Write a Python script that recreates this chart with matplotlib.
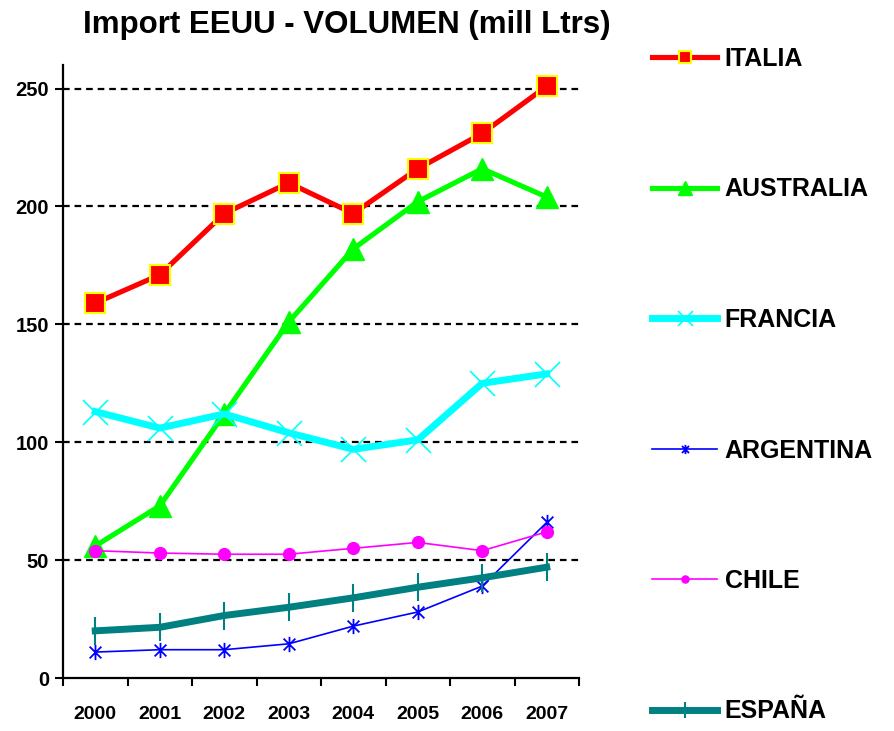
import numpy as np
import matplotlib
matplotlib.use('Agg')
import matplotlib.pyplot as plt
from matplotlib.ticker import FixedLocator
from matplotlib.path import Path

# Datos (mill Ltrs)
years = ['2000', '2001', '2002', '2003', '2004', '2005', '2006', '2007']
italia = [159, 171, 197, 210, 197, 216, 231, 251]
australia = [56, 73, 112, 151, 182, 202, 216, 204]
francia = [113, 106, 112, 104, 97, 101, 125, 129]
argentina = [11, 12, 12, 14.5, 22, 28, 39, 66]
chile = [54, 53, 52.5, 52.5, 55, 57.5, 54, 62]
espana = [20, 21.5, 26.5, 30, 34, 38.5, 42.5, 47]

plt.rcParams['font.family'] = ['Liberation Sans', 'DejaVu Sans']

fig = plt.figure(figsize=(8.94, 7.31), dpi=100)
ax = fig.add_axes([63/894, 53/731, 516/894, 613/731])

x = np.arange(len(years))

# estrella de Excel: x + linea vertical
star_path = Path([(-1, -1), (1, 1), (-1, 1), (1, -1), (0, 1.3), (0, -1.3)],
                 [1, 2, 1, 2, 1, 2])

ax.plot(x, italia, color='#FF0000', lw=3.7, marker='s', ms=15, mfc='#FF0000',
        mec='#FFFF00', mew=1.5, label='ITALIA', zorder=3)
ax.plot(x, australia, color='#00FF00', lw=3.7, marker='^', ms=16, mfc='#00FF00',
        mec='#00FF00', label='AUSTRALIA', zorder=3)
ax.plot(x, francia, color='#00FFFF', lw=5, marker='x', ms=18, mew=1.2,
        mec='#00FFFF', label='FRANCIA', zorder=3)
ax.plot(x, argentina, color='#0000FF', lw=1.2, marker=star_path, ms=11, mew=1.3,
        mec='#0000FF', mfc='none', label='ARGENTINA', zorder=3)
ax.plot(x, chile, color='#FF00FF', lw=1.2, marker='o', ms=8.5, mfc='#FF00FF',
        mec='#FF00FF', label='CHILE', zorder=3)
ax.plot(x, espana, color='#008080', lw=5, marker='|', ms=20, mew=1.5,
        mec='#008080', label='ESPAÑA', zorder=3)

ax.set_xlim(-0.5, 7.5)
ax.set_ylim(0, 260)
ax.set_yticks([0, 50, 100, 150, 200, 250])
ax.set_xticks(x)
ax.set_xticklabels(years)
ax.xaxis.set_minor_locator(FixedLocator(np.arange(-0.5, 8, 1)))
ax.tick_params(axis='x', which='major', length=0, pad=20, labelsize=14)
ax.tick_params(axis='x', which='minor', length=6, width=1.5, direction='out')
ax.tick_params(axis='y', length=6, width=1.5, direction='out', labelsize=14.5, pad=4)
for lab in ax.get_xticklabels() + ax.get_yticklabels():
    lab.set_fontweight('bold')

for v in [50, 100, 150, 200, 250]:
    ax.axhline(v, color='black', ls=(0, (3, 2.2)), lw=1.6, zorder=1)

ax.spines['top'].set_visible(False)
ax.spines['right'].set_visible(False)
ax.spines['left'].set_linewidth(1.6)
ax.spines['bottom'].set_linewidth(1.6)

fig.text(347/894, 1 - 25/731, 'Import EEUU - VOLUMEN (mill Ltrs)', ha='center',
         va='center', fontsize=22.5, fontweight='bold')

leg = fig.legend(loc='upper left', bbox_to_anchor=(642/894, 1 - 37/731), frameon=False,
                 prop={'size': 18, 'weight': 'bold'}, labelspacing=4.26,
                 handlelength=2.6, handletextpad=0.3, markerscale=0.6,
                 borderaxespad=0)

fig.savefig('out.png', dpi=100)
